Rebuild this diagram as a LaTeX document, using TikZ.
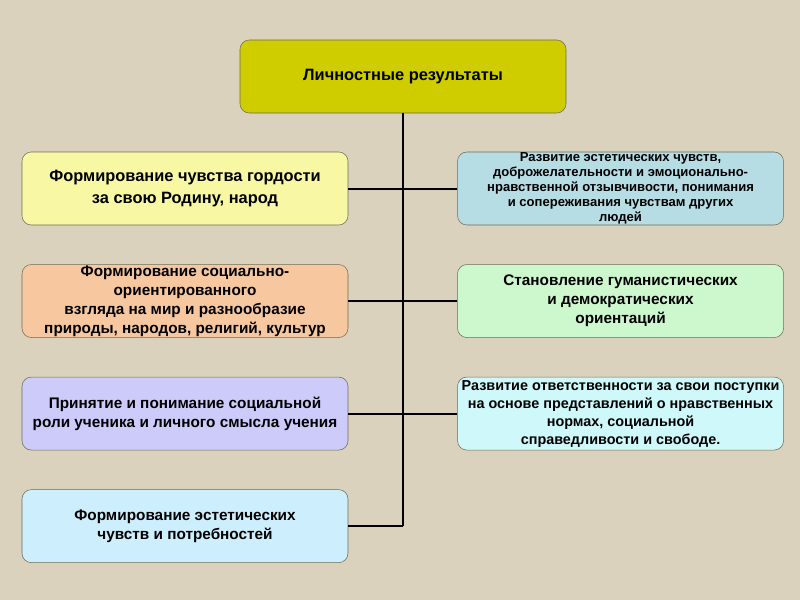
\documentclass[tikz,border=0pt]{standalone}
\usepackage{fontspec}
\setmainfont{Liberation Sans}
\usetikzlibrary{positioning}
\definecolor{lrback}{HTML}{DAD2BC}
\definecolor{lredge}{HTML}{6E6B55}
\definecolor{lrolive}{HTML}{CFCC00}
\definecolor{lryellow}{HTML}{F8F8A4}
\definecolor{lrpeach}{HTML}{F7C8A0}
\definecolor{lrlilac}{HTML}{CDCBFA}
\definecolor{lrsky}{HTML}{CDEEFC}
\definecolor{lrteal}{HTML}{B6DCE4}
\definecolor{lrmint}{HTML}{CDF8CE}
\definecolor{lrice}{HTML}{CEF8FA}
\begin{document}
\begin{tikzpicture}[x=0.75pt,y=-0.75pt,
  res/.style={draw=lredge,rounded corners=7pt,align=center,minimum width=244.5pt,minimum height=54.75pt,inner sep=0pt},
  big/.style={font=\bfseries\fontsize{12.3}{16.5}\selectfont},
  mid/.style={font=\bfseries\fontsize{11.5}{14.2}\selectfont},
  dense/.style={font=\bfseries\fontsize{10.8}{13.5}\selectfont},
  small/.style={font=\bfseries\fontsize{9.8}{11.2}\selectfont},
  link/.style={draw=black,line width=1.5pt}]
\fill[lrback] (0,0) rectangle (800,600);
\useasboundingbox (0,0) rectangle (800,600);
\node[res,big,fill=lrolive] (top) at (403,76.5) {Личностные результаты};
\node[res,big,fill=lryellow] (l1) at (185,188.5) {Формирование чувства гордости\\за свою Родину, народ};
\node[res,mid,fill=lrpeach,below=29.25pt of l1] (l2) {Формирование социально-\\ориентированного\\взгляда на мир и разнообразие\\природы, народов, религий, культур};
\node[res,mid,fill=lrlilac,below=29.25pt of l2] (l3) {Принятие и понимание социальной\\роли ученика и личного смысла учения};
\node[res,mid,fill=lrsky,below=29.25pt of l3] (l4) {Формирование эстетических\\чувств и потребностей};
\node[res,small,fill=lrteal,right=81.75pt of l1] (r1) {Развитие эстетических чувств,\\доброжелательности и эмоционально-\\нравственной отзывчивости, понимания\\и сопереживания чувствам других\\людей};
\node[res,mid,fill=lrmint,right=81.75pt of l2] (r2) {Становление гуманистических\\и демократических\\ориентаций};
\node[res,dense,fill=lrice,right=81.75pt of l3] (r3) {Развитие ответственности за свои поступки\\на основе представлений о нравственных\\нормах, социальной\\справедливости и свободе.};
\draw[link] (top.south) -- (top.south |- l4.east);
\draw[link] (l1.east) -- (l1.east -| top.south);
\draw[link] (l2.east) -- (l2.east -| top.south);
\draw[link] (l3.east) -- (l3.east -| top.south);
\draw[link] (l4.east) -- (l4.east -| top.south);
\draw[link] (r1.west) -- (r1.west -| top.south);
\draw[link] (r2.west) -- (r2.west -| top.south);
\draw[link] (r3.west) -- (r3.west -| top.south);
\end{tikzpicture}
\end{document}
